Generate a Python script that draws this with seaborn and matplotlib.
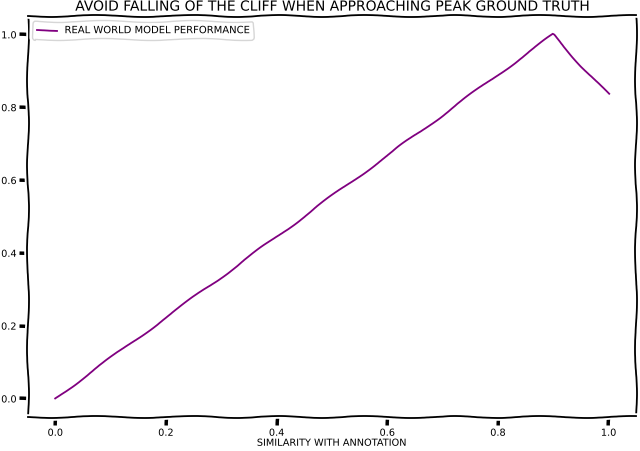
import matplotlib
matplotlib.use("Agg")
import matplotlib.pyplot as plt
import seaborn as sns
import pandas as pd

similarity = [0.0, 0.1, 0.2, 0.3, 0.4, 0.5, 0.6, 0.7, 0.8, 0.9, 0.95, 1.0]
performance = [0.0, 0.111, 0.222, 0.333, 0.444, 0.556, 0.667, 0.778, 0.889, 1.0, 0.915, 0.835]

df = pd.DataFrame({"similarity": similarity, "performance": performance})

plt.xkcd()
plt.rcParams['font.family'] = ['DejaVu Sans']
fig = plt.figure(figsize=(6.4, 4.52), dpi=100)
ax = fig.add_axes([0.043, 0.076, 0.951, 0.886])
sns.lineplot(data=df, x="similarity", y="performance", color="purple",
             label="REAL WORLD MODEL PERFORMANCE", ax=ax, linewidth=1.3)
ax.set_title("AVOID FALLING OF THE CLIFF WHEN APPROACHING PEAK GROUND TRUTH",
             fontsize=10, pad=4)
ax.set_xlabel("SIMILARITY WITH ANNOTATION", fontsize=7, labelpad=0)
ax.set_ylabel("")
ax.tick_params(labelsize=7, length=6, width=2.5, pad=2)
for s in ax.spines.values():
    s.set_linewidth(1.3)
ax.legend(loc="upper left", fontsize=7.2)
fig.savefig("out.png", dpi=100)
